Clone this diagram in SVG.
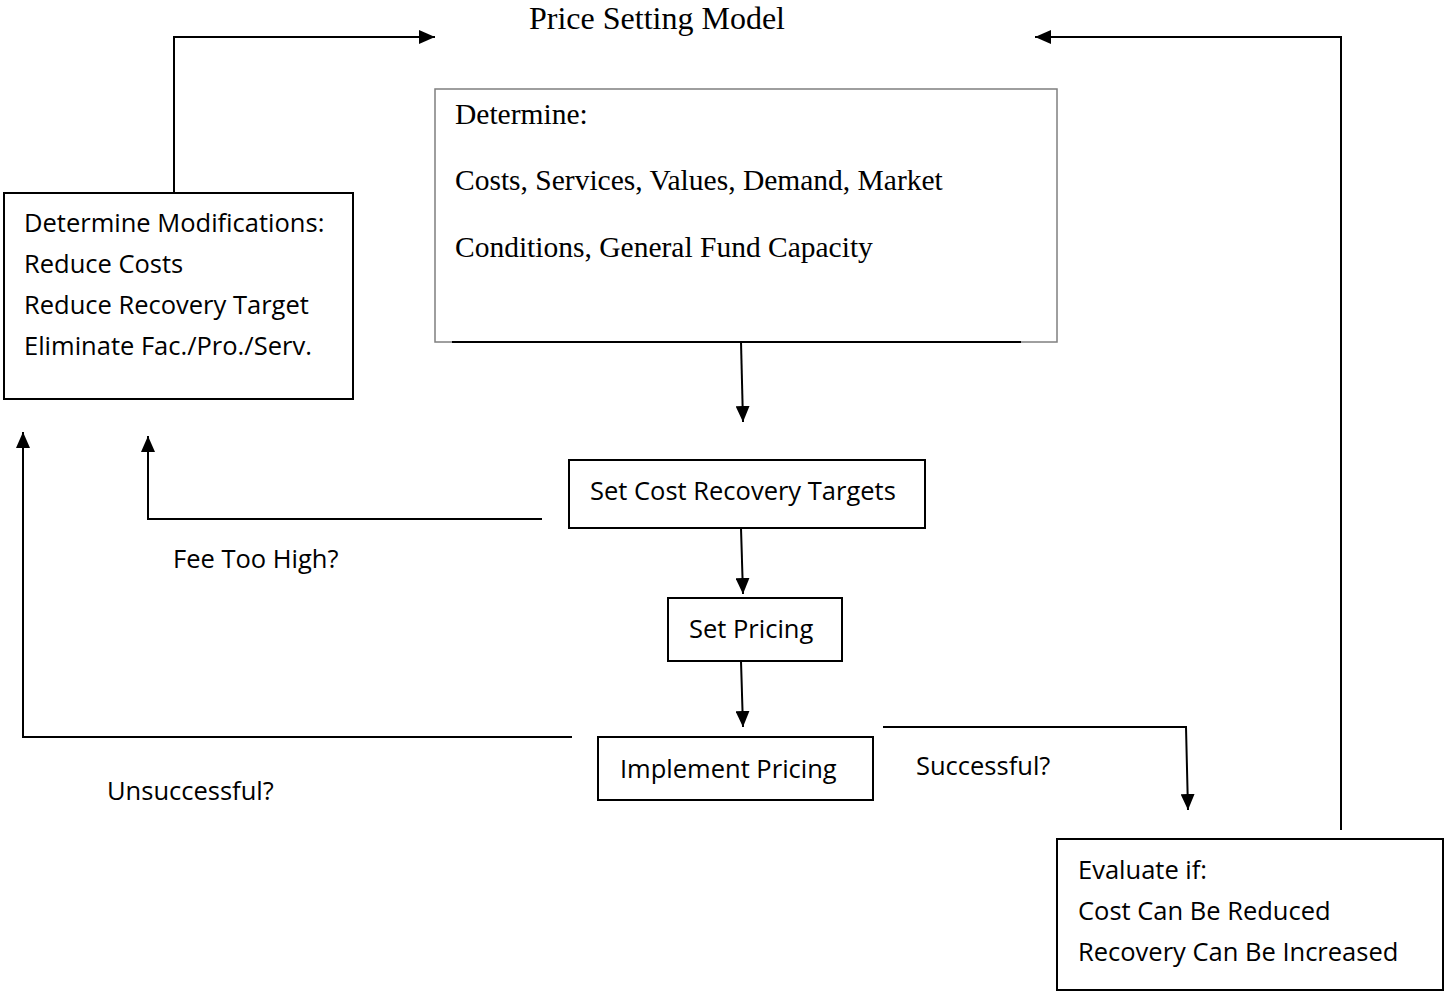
<svg xmlns="http://www.w3.org/2000/svg" width="1444" height="993" viewBox="0 0 1444 993">
<style>
.box{fill:#fff;stroke:#000;stroke-width:2}
.gbox{fill:#fff;stroke:#7f7f7f;stroke-width:1.5}
.line{fill:none;stroke:#000;stroke-width:2}
.sans{font-family:"Open Sans","Liberation Sans",sans-serif;font-size:25.5px;fill:#000}
.serif{font-family:"Liberation Serif","Times New Roman",serif;font-size:29.5px;fill:#000}
.title{font-size:32px}
</style>
<defs>
<marker id="ah" viewBox="0 0 16 14" refX="16" refY="7" markerWidth="16" markerHeight="14" markerUnits="userSpaceOnUse" orient="auto">
<path d="M0,0 L16,7 L0,14 z" fill="#000"/>
</marker>
</defs>
<text class="serif title" x="529" y="29">Price Setting Model</text>
<g id="connectors">
<path class="line" d="M174,192 V37 H435" marker-end="url(#ah)"/>
<path class="line" d="M1341,830 V37 H1035" marker-end="url(#ah)"/>
<path class="line" d="M741,342 L743,422" marker-end="url(#ah)"/>
<path class="line" d="M542,519 H148 V436" marker-end="url(#ah)"/>
<path class="line" d="M741,528 L743,594" marker-end="url(#ah)"/>
<path class="line" d="M741,661 L743,727" marker-end="url(#ah)"/>
<path class="line" d="M572,737 H23 V432" marker-end="url(#ah)"/>
<path class="line" d="M883,727 H1186 L1188,810" marker-end="url(#ah)"/>
</g>
<g id="determine">
<rect class="gbox" x="435" y="89" width="622" height="253"/>
<line x1="452" y1="342" x2="1021" y2="342" stroke="#000" stroke-width="2"/>
<text class="serif" x="455" y="124">Determine:</text>
<text class="serif" x="455" y="190">Costs, Services, Values, Demand, Market</text>
<text class="serif" x="455" y="257">Conditions, General Fund Capacity</text>
</g>
<g id="modifications">
<rect class="box" x="4" y="193" width="349" height="206"/>
<text class="sans" x="24" y="232">Determine Modifications:</text>
<text class="sans" x="24" y="273">Reduce Costs</text>
<text class="sans" x="24" y="314">Reduce Recovery Target</text>
<text class="sans" x="24" y="355">Eliminate Fac./Pro./Serv.</text>
</g>
<g id="targets">
<rect class="box" x="569" y="460" width="356" height="68"/>
<text class="sans" x="590" y="500">Set Cost Recovery Targets</text>
</g>
<g id="pricing">
<rect class="box" x="668" y="598" width="174" height="63"/>
<text class="sans" x="689" y="638">Set Pricing</text>
</g>
<g id="implement">
<rect class="box" x="598" y="737" width="275" height="63"/>
<text class="sans" x="620" y="778">Implement Pricing</text>
</g>
<g id="evaluate">
<rect class="box" x="1057" y="839" width="386" height="151"/>
<text class="sans" x="1078" y="879">Evaluate if:</text>
<text class="sans" x="1078" y="920">Cost Can Be Reduced</text>
<text class="sans" x="1078" y="961">Recovery Can Be Increased</text>
</g>
<g id="labels">
<text class="sans" x="173" y="568">Fee Too High?</text>
<text class="sans" x="916" y="775">Successful?</text>
<text class="sans" x="107" y="800">Unsuccessful?</text>
</g>
</svg>
